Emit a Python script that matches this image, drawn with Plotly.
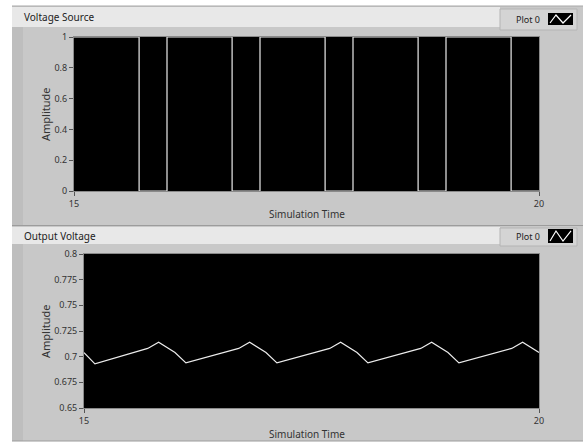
import plotly.graph_objects as go

W, H = 585, 446

# ---- data ----
src_time = [15, 15.7, 16, 16.7, 17, 17.7, 18, 18.7, 19, 19.7, 20]
src_amp = [1, 0, 1, 0, 1, 0, 1, 0, 1, 0, 0]

out_time = [15.0, 15.12, 15.7, 15.82, 16.0, 16.12, 16.7, 16.82, 17.0, 17.12,
            17.7, 17.82, 18.0, 18.12, 18.7, 18.82, 19.0, 19.12, 19.7, 19.82, 20.0]
out_amp = [0.704, 0.693, 0.708, 0.714, 0.704, 0.694, 0.708, 0.714, 0.704, 0.694,
           0.708, 0.714, 0.704, 0.694, 0.708, 0.714, 0.704, 0.694, 0.708, 0.714, 0.704]

src_yticks = [0, 0.2, 0.4, 0.6, 0.8, 1]
src_yticktext = ["0", "0.2", "0.4", "0.6", "0.8", "1"]
out_yticks = [0.65, 0.675, 0.7, 0.725, 0.75, 0.775, 0.8]
out_yticktext = ["0.65", "0.675", "0.7", "0.725", "0.75", "0.775", "0.8"]
xticks = [15, 20]
xticktext = ["15", "20"]

FONT = "Noto Sans"


def px(x):
    return x / W


def py(y):
    return 1 - y / H


fig = go.Figure()
fig.add_trace(go.Scatter(x=src_time, y=src_amp, mode="lines", line_shape="hv",
                         line=dict(color="#ececec", width=1.2), xaxis="x", yaxis="y",
                         showlegend=False))
fig.add_trace(go.Scatter(x=out_time, y=out_amp, mode="lines",
                         line=dict(color="#ececec", width=1.2), xaxis="x2", yaxis="y2",
                         showlegend=False))

shapes = []


def rect(x0, y0, x1, y1, fill, line=None, lw=0):
    shapes.append(dict(type="rect", xref="paper", yref="paper",
                       x0=px(x0), x1=px(x1), y0=py(y1), y1=py(y0),
                       fillcolor=fill, line=dict(width=lw, color=line or fill),
                       layer="below"))


def hline(x0, x1, y, color, w=1):
    shapes.append(dict(type="line", xref="paper", yref="paper",
                       x0=px(x0), x1=px(x1), y0=py(y), y1=py(y),
                       line=dict(color=color, width=w), layer="below"))


# panels
rect(12, 6, 583, 225, "#c8c8c8")
rect(12, 226, 583, 441, "#c8c8c8")
rect(12, 27, 23, 225, "#bebebe")
rect(12, 244, 23, 441, "#bebebe")
hline(12, 583, 6, "#a8a8a8")
hline(12, 583, 225.5, "#9c9c9c")
hline(12, 583, 441, "#9c9c9c")
# title bars
rect(12, 7, 500, 27, "#e8e8e8")
rect(12, 227, 500, 244, "#e8e8e8")
# legend boxes
rect(500, 9, 577, 30, "#d4d4d4", "#b4b4b4", 1)
rect(500, 228, 577, 246, "#d4d4d4", "#b4b4b4", 1)
for (y0, y1) in [(13, 25), (229, 243)]:
    rect(548, y0, 573, y1, "#000000")
    path = "M {:.4f},{:.4f} L {:.4f},{:.4f} L {:.4f},{:.4f} L {:.4f},{:.4f}".format(
        px(550), py(y1 - 2), px(556), py(y0 + 2), px(563), py(y1 - 2), px(571), py(y0 + 2))
    shapes.append(dict(type="path", xref="paper", yref="paper", path=path,
                       line=dict(color="white", width=1.2)))
# black plot areas
for xa, ya in [("x", "y"), ("x2", "y2")]:
    shapes.append(dict(type="rect", xref=xa + " domain", yref=ya + " domain",
                       x0=0, x1=1, y0=0, y1=1, fillcolor="black",
                       line=dict(width=0), layer="below"))

ann = []


def text(x, y, s, size=10, angle=0, xanchor="center", color="#222"):
    ann.append(dict(xref="paper", yref="paper", x=px(x), y=py(y), text=s,
                    showarrow=False, xanchor=xanchor, yanchor="middle",
                    textangle=angle, font=dict(family=FONT, size=size, color=color)))


text(22, 17, "Voltage Source", 10, xanchor="left")
text(22, 236, "Output Voltage", 10, xanchor="left")
text(542, 19, "Plot 0", 9, xanchor="right")
text(542, 236, "Plot 0", 9, xanchor="right")
text(45, 114, "Amplitude", 11, angle=-90, color="#333")
text(45, 331, "Amplitude", 11, angle=-90, color="#333")
text(307, 214, "Simulation Time", 10, color="#333")
text(307, 434, "Simulation Time", 10, color="#333")

axis_common = dict(showgrid=False, zeroline=False, showline=True, linecolor="#8a8a8a",
                   linewidth=1, mirror=True, ticks="outside", ticklen=4, tickwidth=1,
                   tickcolor="#555", automargin=False,
                   tickfont=dict(family=FONT, size=9, color="#333"))

fig.update_layout(
    width=W, height=H, margin=dict(l=0, r=0, t=0, b=0, pad=0, autoexpand=False),
    paper_bgcolor="white", plot_bgcolor="black",
    showlegend=False,
    shapes=shapes, annotations=ann,
    xaxis=dict(domain=[px(74), px(539)], range=[15, 20], tickvals=xticks,
               ticktext=xticktext, anchor="y", **axis_common),
    yaxis=dict(domain=[py(191), py(37)], range=[0, 1], tickvals=src_yticks,
               ticktext=src_yticktext, anchor="x", **axis_common),
    xaxis2=dict(domain=[px(84), px(539)], range=[15, 20], tickvals=xticks,
                ticktext=xticktext, anchor="y2", **axis_common),
    yaxis2=dict(domain=[py(408), py(254)], range=[0.65, 0.8], tickvals=out_yticks,
                ticktext=out_yticktext, anchor="x2", **axis_common),
)

fig.write_html("out.html", config={"displayModeBar": False},
               post_script="document.body.style.margin='0';document.body.style.overflow='hidden';")
